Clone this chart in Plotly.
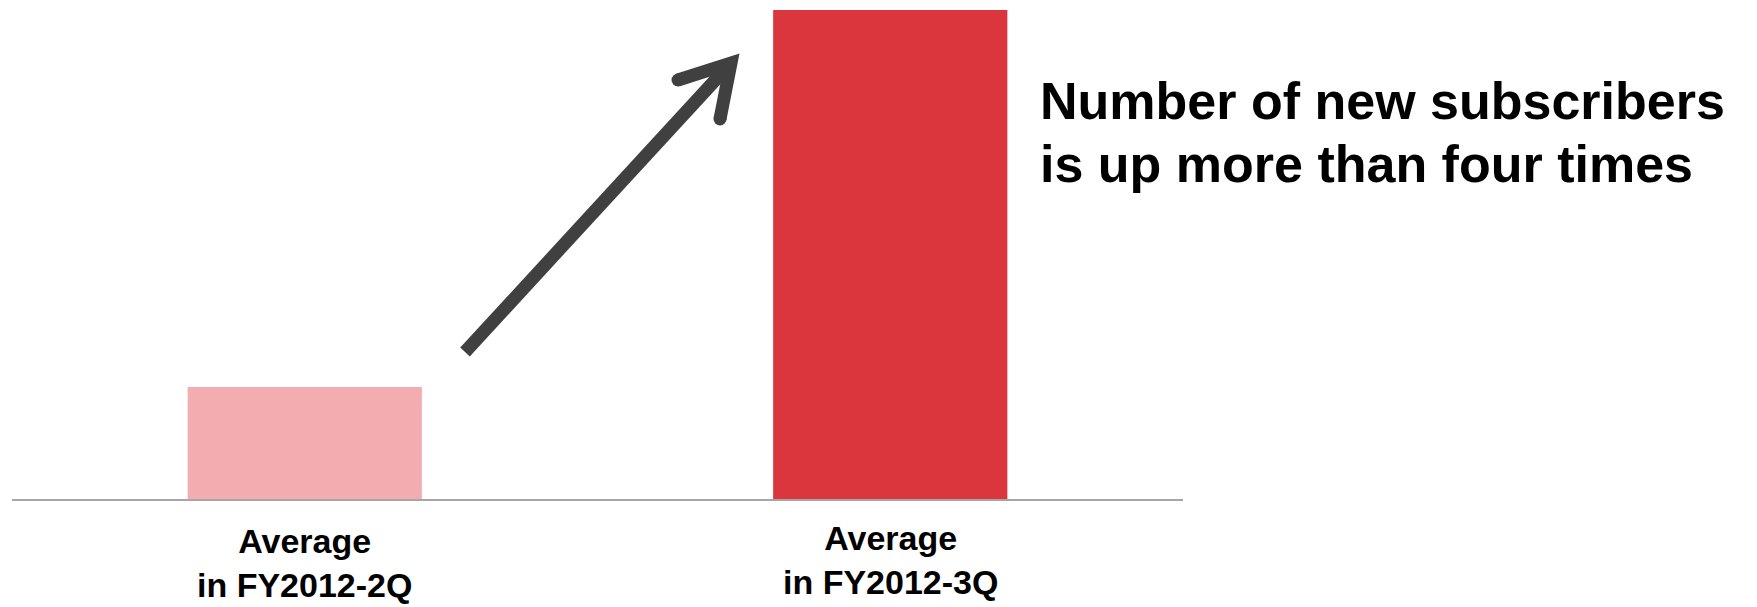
import plotly.graph_objects as go

# Average number of new subscribers per quarter (relative units)
quarters = ["FY2012-2Q", "FY2012-3Q"]
subscribers = [1.0, 4.37]
bar_colors = ["#F3ACAF", "#DB353E"]

headline_lines = ["Number of new subscribers", "is up more than four times"]

W, H = 1757, 607
M_L, M_R, M_T, M_B = 12, 574, 10, 108
PLOT_W = W - M_L - M_R
PLOT_H = H - M_T - M_B
FONT = "Liberation Sans, Arial, sans-serif"


def to_paper(px, py):
    """Convert page pixel positions into paper coordinates of the plot area."""
    return (px - M_L) / PLOT_W, (H - M_B - py) / PLOT_H


fig = go.Figure(
    go.Bar(
        x=quarters,
        y=subscribers,
        marker=dict(color=bar_colors, line=dict(width=0)),
        width=0.4,
        hoverinfo="skip",
    )
)

# Rising arrow between the two bars: shaft, chevron head and rounded barb ends
ARROW = "#404040"
tail = to_paper(465, 352)
tip = to_paper(731, 63)
barb_a = to_paper(678, 80)
barb_b = to_paper(720, 119)
shapes = [
    dict(type="line", xref="paper", yref="paper",
         x0=tail[0], y0=tail[1], x1=tip[0], y1=tip[1],
         line=dict(color=ARROW, width=13), layer="above"),
    dict(type="path", xref="paper", yref="paper",
         path=f"M {barb_a[0]},{barb_a[1]} L {tip[0]},{tip[1]} L {barb_b[0]},{barb_b[1]}",
         line=dict(color=ARROW, width=13), layer="above"),
]
for bx, by in (barb_a, barb_b):
    r = 6.5
    shapes.append(dict(
        type="circle", xref="paper", yref="paper",
        x0=bx - r / PLOT_W, x1=bx + r / PLOT_W,
        y0=by - r / PLOT_H, y1=by + r / PLOT_H,
        fillcolor=ARROW, line=dict(width=0), layer="above"))

annotations = []

# Headline, one annotation per line for tighter leading
for text, py in zip(headline_lines, (101, 164)):
    hx, hy = to_paper(1038, py)
    annotations.append(dict(
        text=f"<b>{text}</b>", xref="paper", yref="paper", x=hx, y=hy,
        xanchor="left", yanchor="middle", showarrow=False,
        font=dict(family=FONT, size=52, color="#000000"),
    ))

# Two-line category labels under each bar (bottom edge of each label block)
label_bottom = {"FY2012-2Q": 606, "FY2012-3Q": 603}
for q in quarters:
    annotations.append(dict(
        text=f"<b>Average<br>in {q}</b>", xref="x", yref="paper", x=q,
        y=to_paper(0, label_bottom[q])[1], xanchor="center", yanchor="bottom",
        align="center", showarrow=False,
        font=dict(family=FONT, size=34, color="#000000"),
    ))

fig.update_layout(
    width=W, height=H,
    margin=dict(l=M_L, r=M_R, t=M_T, b=M_B, pad=0),
    paper_bgcolor="white", plot_bgcolor="white",
    showlegend=False,
    font=dict(family=FONT, color="#000000"),
    shapes=shapes,
    annotations=annotations,
    xaxis=dict(
        range=[-0.5, 1.5], showgrid=False, zeroline=False,
        showline=True, linecolor="#A6A6A6", linewidth=2,
        ticks="", showticklabels=False, automargin=False,
    ),
    yaxis=dict(range=[0, subscribers[1]], visible=False, showgrid=False,
               zeroline=False, automargin=False),
)

fig.write_html("out.html")
